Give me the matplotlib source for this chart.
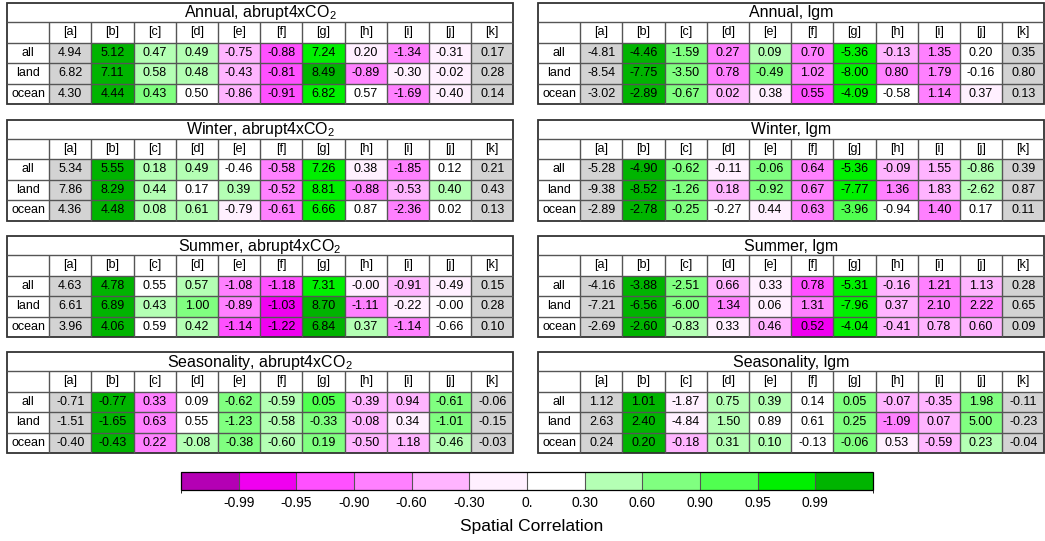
import numpy as np
import matplotlib
matplotlib.use("Agg")
import matplotlib.pyplot as plt
from matplotlib.colors import ListedColormap, BoundaryNorm
from matplotlib.colorbar import ColorbarBase

plt.rcParams['font.family'] = ['Liberation Sans', 'DejaVu Sans']
plt.rcParams['mathtext.fontset'] = 'custom'
plt.rcParams['mathtext.rm'] = 'Liberation Sans'
plt.rcParams['mathtext.it'] = 'Liberation Sans'

columns = ['[a]', '[b]', '[c]', '[d]', '[e]', '[f]', '[g]', '[h]', '[i]', '[j]', '[k]']
regions = ['all', 'land', 'ocean']

titles = [
    'Annual, abrupt4xCO$_2$', 'Annual, lgm',
    'Winter, abrupt4xCO$_2$', 'Winter, lgm',
    'Summer, abrupt4xCO$_2$', 'Summer, lgm',
    'Seasonality, abrupt4xCO$_2$', 'Seasonality, lgm',
]

# printed numbers, rows = all / land / ocean, columns [a]..[k]
annual_4x = [[4.94, 5.12, 0.47, 0.49, -0.75, -0.88, 7.24, 0.20, -1.34, -0.31, 0.17],
             [6.82, 7.11, 0.58, 0.48, -0.43, -0.81, 8.49, -0.89, -0.30, -0.02, 0.28],
             [4.30, 4.44, 0.43, 0.50, -0.86, -0.91, 6.82, 0.57, -1.69, -0.40, 0.14]]
annual_lgm = [[-4.81, -4.46, -1.59, 0.27, 0.09, 0.70, -5.36, -0.13, 1.35, 0.20, 0.35],
              [-8.54, -7.75, -3.50, 0.78, -0.49, 1.02, -8.00, 0.80, 1.79, -0.16, 0.80],
              [-3.02, -2.89, -0.67, 0.02, 0.38, 0.55, -4.09, -0.58, 1.14, 0.37, 0.13]]
winter_4x = [[5.34, 5.55, 0.18, 0.49, -0.46, -0.58, 7.26, 0.38, -1.85, 0.12, 0.21],
             [7.86, 8.29, 0.44, 0.17, 0.39, -0.52, 8.81, -0.88, -0.53, 0.40, 0.43],
             [4.36, 4.48, 0.08, 0.61, -0.79, -0.61, 6.66, 0.87, -2.36, 0.02, 0.13]]
winter_lgm = [[-5.28, -4.90, -0.62, -0.11, -0.06, 0.64, -5.36, -0.09, 1.55, -0.86, 0.39],
              [-9.38, -8.52, -1.26, 0.18, -0.92, 0.67, -7.77, 1.36, 1.83, -2.62, 0.87],
              [-2.89, -2.78, -0.25, -0.27, 0.44, 0.63, -3.96, -0.94, 1.40, 0.17, 0.11]]
summer_4x = [[4.63, 4.78, 0.55, 0.57, -1.08, -1.18, 7.31, -0.00, -0.91, -0.49, 0.15],
             [6.61, 6.89, 0.43, 1.00, -0.89, -1.03, 8.70, -1.11, -0.22, -0.00, 0.28],
             [3.96, 4.06, 0.59, 0.42, -1.14, -1.22, 6.84, 0.37, -1.14, -0.66, 0.10]]
summer_lgm = [[-4.16, -3.88, -2.51, 0.66, 0.33, 0.78, -5.31, -0.16, 1.21, 1.13, 0.28],
              [-7.21, -6.56, -6.00, 1.34, 0.06, 1.31, -7.96, 0.37, 2.10, 2.22, 0.65],
              [-2.69, -2.60, -0.83, 0.33, 0.46, 0.52, -4.04, -0.41, 0.78, 0.60, 0.09]]
season_4x = [[-0.71, -0.77, 0.33, 0.09, -0.62, -0.59, 0.05, -0.39, 0.94, -0.61, -0.06],
             [-1.51, -1.65, 0.63, 0.55, -1.23, -0.58, -0.33, -0.08, 0.34, -1.01, -0.15],
             [-0.40, -0.43, 0.22, -0.08, -0.38, -0.60, 0.19, -0.50, 1.18, -0.46, -0.03]]
season_lgm = [[1.12, 1.01, -1.87, 0.75, 0.39, 0.14, 0.05, -0.07, -0.35, 1.98, -0.11],
              [2.63, 2.40, -4.84, 1.50, 0.89, 0.61, 0.25, -1.09, 0.07, 5.00, -0.23],
              [0.24, 0.20, -0.18, 0.31, 0.10, -0.13, -0.06, 0.53, -0.59, 0.23, -0.04]]

# spatial correlation of columns [b]..[j] (shading only)
corr_annual_4x = [[.995, .45, .45, -.45, -.92, .97, -.15, -.75, -.15],
                  [.995, .45, .45, -.45, -.92, .995, -.75, -.15, -.15],
                  [.995, .75, .15, -.45, -.92, .97, .15, -.75, -.15]]
corr_annual_lgm = [[.995, .75, -.75, .45, -.75, .97, -.45, -.75, .15],
                   [.995, .75, -.75, .75, -.75, .97, -.75, -.75, .15],
                   [.995, .75, -.45, -.15, -.92, .97, .15, -.75, -.15]]
corr_winter_4x = [[.995, .45, .45, .15, -.75, .97, -.15, -.75, .15],
                  [.995, .45, .15, .45, -.75, .97, -.75, -.45, .45],
                  [.995, .45, .45, -.15, -.75, .97, .15, -.75, .15]]
corr_winter_lgm = [[.995, .75, -.15, .75, -.75, .97, -.45, -.45, .45],
                   [.995, .75, -.45, .75, -.75, .97, -.75, -.45, .45],
                   [.995, .75, .15, -.15, -.75, .92, .15, -.75, .15]]
corr_summer_4x = [[.995, .15, .45, -.75, -.92, .97, -.15, -.45, -.15],
                  [.995, .45, .75, -.75, -.97, .995, -.75, -.15, .15],
                  [.995, .15, .45, -.92, -.97, .995, .45, -.75, .15]]
corr_summer_lgm = [[.995, .75, -.45, -.15, -.92, .97, -.45, -.75, -.45],
                   [.995, .75, -.75, -.15, -.75, .97, -.45, -.75, -.75],
                   [.995, .45, -.15, -.45, -.97, .97, -.45, -.45, -.45]]
corr_season_4x = [[.995, -.75, .15, .75, .45, .92, -.45, -.45, .75],
                  [.995, -.75, .15, .75, .45, .75, -.45, -.15, .75],
                  [.995, -.75, .45, .75, .45, .75, -.45, -.45, .45]]
corr_season_lgm = [[.995, -.15, .45, .45, .15, .75, -.45, -.45, .75],
                   [.995, -.15, .45, .15, .15, .75, -.75, -.45, .75],
                   [.995, -.45, .45, .45, .15, .75, -.15, -.45, .45]]

values = [annual_4x, annual_lgm, winter_4x, winter_lgm,
          summer_4x, summer_lgm, season_4x, season_lgm]
corrs = [corr_annual_4x, corr_annual_lgm, corr_winter_4x, corr_winter_lgm,
         corr_summer_4x, corr_summer_lgm, corr_season_4x, corr_season_lgm]

levels = [-0.99, -0.95, -0.90, -0.60, -0.30, 0.0, 0.30, 0.60, 0.90, 0.95, 0.99]
level_labels = ['-0.99', '-0.95', '-0.90', '-0.60', '-0.30', '0.',
                '0.30', '0.60', '0.90', '0.95', '0.99']
colors = ['#b400b4', '#f000f0', '#ff50ff', '#ff80ff', '#ffb4ff', '#fff0ff',
          '#ffffff', '#b4ffb4', '#80ff80', '#50ff50', '#00f000', '#00b400']

cmap = ListedColormap(colors)
cmap.set_bad('#d3d3d3')
bounds = [-1.0] + levels + [1.0]
norm = BoundaryNorm(bounds, cmap.N)

fig = plt.figure(figsize=(10.45, 5.41), dpi=100)
ax = fig.add_axes([0, 0, 1, 1])
ax.set_xlim(0, 1045)
ax.set_ylim(541, 0)
ax.axis('off')

cw = 42.2       # cell width
th = 19.0       # title row height
rh = 20.5       # other row height
lefts = [7, 538]
tops = [3, 119.5, 236, 352]
line_c = '#555555'
fs = 9

for k, (title, vals, cr) in enumerate(zip(titles, values, corrs)):
    x0 = lefts[k % 2]
    y0 = tops[k // 2]
    ncol = len(columns)
    width = cw * (ncol + 1)

    # shaded data cells; [a] and [k] are not shaded (masked -> grey)
    grid = np.full((len(regions), ncol), np.nan)
    grid[:, 1:-1] = np.array(cr)
    xe = x0 + cw * np.arange(1, ncol + 2)
    ye = y0 + th + rh * np.arange(1, len(regions) + 2)
    ax.pcolormesh(xe, ye, np.ma.masked_invalid(grid), cmap=cmap, norm=norm)

    # title
    ax.text(x0 + width / 2, y0 + th / 2 + 0.5, title, ha='center', va='center',
            fontsize=11.5)
    # header and row labels
    for j, c in enumerate(columns):
        ax.text(x0 + cw * (j + 1.5), y0 + th + rh / 2, c, ha='center',
                va='center', fontsize=fs)
    for i, r in enumerate(regions):
        yc = y0 + th + rh * (i + 1.5)
        ax.text(x0 + cw / 2, yc, r, ha='center', va='center', fontsize=fs)
        for j in range(ncol):
            ax.text(x0 + cw * (j + 1.5), yc, '%.2f' % vals[i][j],
                    ha='center', va='center', fontsize=fs)

    # grid lines
    bottom = y0 + th + rh * 4
    ax.hlines([y0 + th + rh * n for n in range(4)], x0, x0 + width,
              color=line_c, lw=1.0)
    ax.vlines([x0 + cw * n for n in range(1, ncol + 1)], y0 + th, bottom,
              color=line_c, lw=1.0)
    ax.add_patch(plt.Rectangle((x0, y0), width, bottom - y0, fill=False,
                               ec='#333333', lw=1.3))

# colour bar
cax = fig.add_axes([181 / 1045, 1 - 490 / 541, 692 / 1045, 18 / 541])
cb = ColorbarBase(cax, cmap=cmap, norm=norm, boundaries=bounds, ticks=levels,
                  spacing='uniform', orientation='horizontal')
cb.set_ticklabels(level_labels)
cb.outline.set_linewidth(0.9)
cax.tick_params(length=0, labelsize=10, pad=4)
for b in range(1, len(bounds) - 1):
    cax.axvline(bounds[b], color='#555555', lw=0.8)
fig.text(532 / 1045, 1 - 527 / 541, 'Spatial Correlation', ha='center',
         va='center', fontsize=12.5)

fig.savefig('out.png', dpi=100)
